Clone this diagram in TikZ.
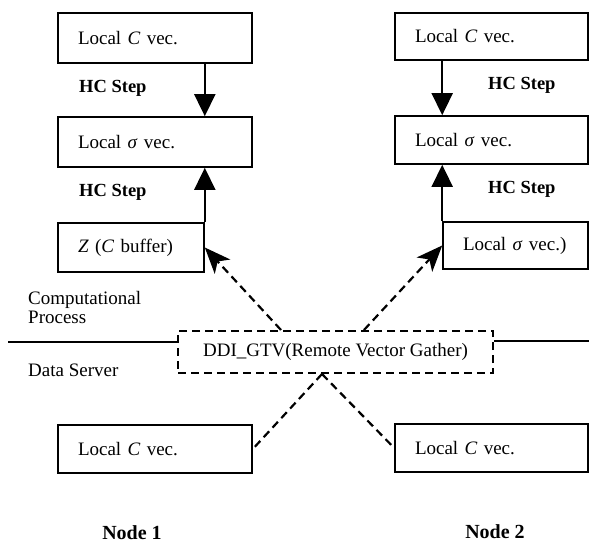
\documentclass[tikz,border=0pt]{standalone}
\usepackage{fontspec}
\setmainfont{Liberation Serif}
\usetikzlibrary{arrows.meta,calc}
\begin{document}
\begin{tikzpicture}[x=1pt,y=-1pt,
  txt/.style={font=\fontsize{19}{22}\selectfont},
  box/.style={draw, line width=1.6pt, inner xsep=20pt, inner ysep=0pt, align=left, txt},
  dbox/.style={draw, line width=2pt, dash pattern=on 8pt off 5pt, inner sep=0pt, txt},
  hc/.style={font=\fontsize{18.5}{22}\selectfont\bfseries, anchor=west, inner sep=0pt},
  lbl/.style={txt, anchor=west, inner sep=0pt, align=left},
  nodelbl/.style={font=\fontsize{20}{24}\selectfont\bfseries, inner sep=0pt},
  arr/.style={line width=1.8pt, -{Triangle[length=22pt,width=21pt]}},
  darr/.style={line width=2.2pt, dash pattern=on 8pt off 5pt, -{Stealth[length=26pt,width=21pt,inset=7pt]}},
  dline/.style={line width=2.2pt, dash pattern=on 8pt off 5pt},
  sline/.style={line width=1.6pt}
]
\useasboundingbox (0,0) rectangle (589,543);

% left column
\node[box, text width=154pt, minimum height=50pt] (L1) at (155,38) {Local \textit{C} vec.};
\node[box, text width=154pt, minimum height=50pt] (L2) at (155,142) {Local \textit{σ} vec.};
\node[box, text width=106pt, minimum height=49pt] (L3) at (131,247.5) {\textit{Z} (\textit{C} buffer)};
\node[hc] (hcL1) at (79,88) {HC Step};
\node[hc] (hcL2) at (79,192) {HC Step};

% right column
\node[box, text width=153pt, minimum height=47pt] (R1) at (491.5,36.5) {Local \textit{C} vec.};
\node[box, text width=153pt, minimum height=48pt] (R2) at (491.5,140) {Local \textit{σ} vec.};
\node[box, text width=105pt, minimum height=47pt] (R3) at (515.5,245.5) {Local \textit{σ} vec.)};
\node[hc] (hcR1) at (488,85) {HC Step};
\node[hc] (hcR2) at (488,189) {HC Step};

% middle
\node[lbl] (cp) at (28,307) {Computational\\[-3pt]Process};
\node[lbl] (ds) at (28,370) {Data Server};
\node[dbox, minimum width=315pt, minimum height=42pt] (DDI) at (335.5,352) {DDI\_GTV(Remote Vector Gather)};
\coordinate (lineL) at (8,342);
\coordinate (lineR) at (589,341);
\draw[sline] (lineL) -- (lineL -| DDI.west);
\draw[sline] (lineR) -- (lineR -| DDI.east);

% bottom
\node[box, text width=154pt, minimum height=48pt] (B1) at (155,449) {Local \textit{C} vec.};
\node[box, text width=153pt, minimum height=48pt] (B2) at (491.5,448) {Local \textit{C} vec.};
\node[nodelbl] (n1) at (132,533) {Node 1};
\node[nodelbl] (n2) at (495,532) {Node 2};

% arrows
\draw[arr] (L1.south -| L3.east) -- (L2.north -| L3.east);
\draw[arr] (L3.north east) -- (L3.north east |- L2.south);
\draw[arr] (R1.south -| R3.west) -- (R2.north -| R3.west);
\draw[arr] (R3.north west) -- (R3.north west |- R2.south);

\coordinate (dt1) at ($(DDI.north west)+(104,0)$);
\coordinate (dt2) at ($(DDI.north west)+(187,0)$);
\coordinate (db) at ($(DDI.south west)+(145,0)$);
\draw[darr] (dt1) -- (L3.east);
\draw[darr] (dt2) -- (R3.west);
\draw[dline] (db) -- (B1.east);
\draw[dline] (db) -- (B2.west);
\end{tikzpicture}
\end{document}
